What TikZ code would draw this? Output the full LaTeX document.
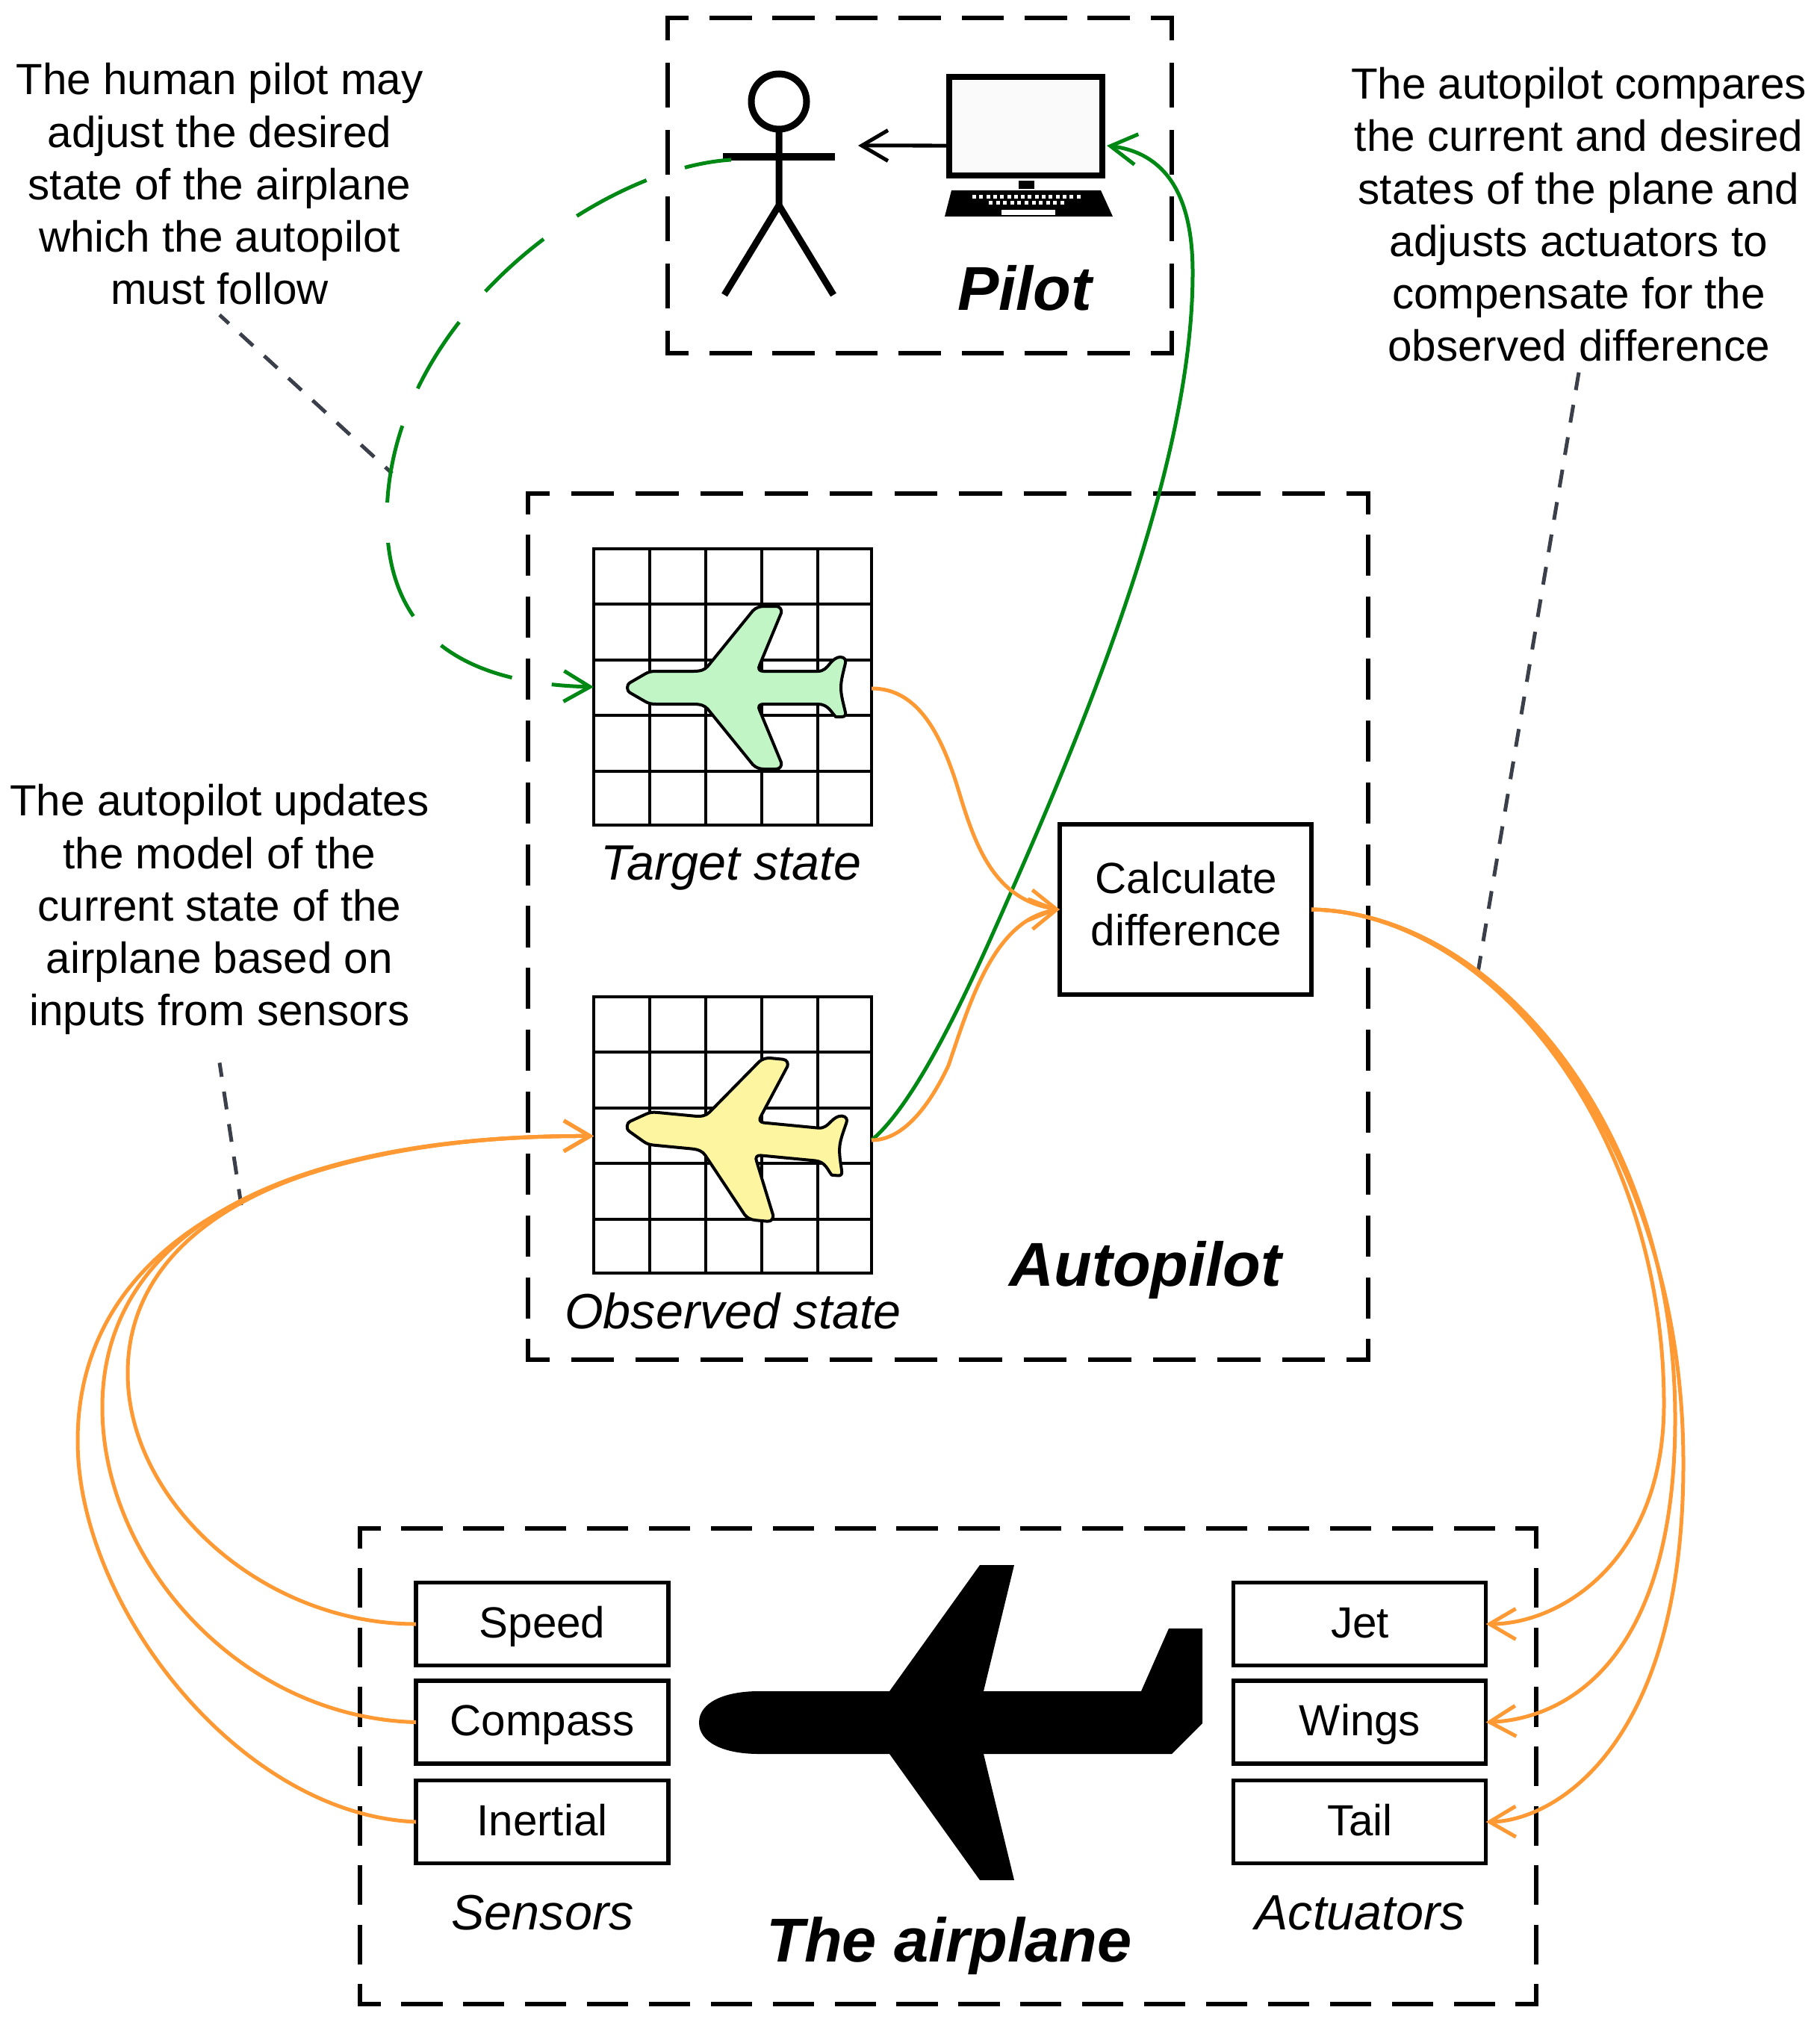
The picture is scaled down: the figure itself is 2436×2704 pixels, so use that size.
\documentclass[tikz,border=0pt]{standalone}
\usepackage{fontspec}
\setmainfont{Liberation Sans}
\usetikzlibrary{calc,arrows.meta,positioning}

\definecolor{pathgreen}{RGB}{0,136,20}
\definecolor{pathorange}{RGB}{255,153,51}
\definecolor{leadergray}{RGB}{58,63,74}
\definecolor{planegreen}{RGB}{194,245,198}
\definecolor{planeyellow}{RGB}{253,245,160}

\newcommand{\notesize}{\fontsize{16.6}{19.95}\selectfont}
\newcommand{\captionsize}{\fontsize{18.9}{22}\selectfont\itshape}
\newcommand{\titlesize}{\fontsize{23.6}{28}\selectfont\bfseries\itshape}

% small plane on a map, around its centre (y runs downwards)
\newcommand{\drawplane}[4]{%
	\begin{scope}[shift={(#1,#2)},rotate=#3]
		\draw[planeline, fill=#4] (-145,0) .. controls (-145,-3) and (-144,-5) .. (-141,-7)
		-- (-122,-18) .. controls (-117,-21) and (-113,-22) .. (-107,-22)
		-- (-56,-22) .. controls (-47,-22) and (-41,-24) .. (-37,-29)
		-- (23,-103) .. controls (27,-107) and (32,-109) .. (38,-109)
		-- (54,-109) .. controls (60,-109) and (62,-104) .. (61,-100)
		-- (32,-30) .. controls (30,-26) and (31,-22) .. (37,-22)
		-- (110,-22) .. controls (118,-22) and (122,-27) .. (126,-32)
		.. controls (130,-37) and (135,-41) .. (140,-41)
		.. controls (146,-41) and (148,-37) .. (147,-33)
		.. controls (144,-20) and (141,-10) .. (141,0)
		.. controls (141,10) and (144,20) .. (147,33)
		.. controls (148,37) and (146,39) .. (142,39)
		-- (134,39) .. controls (128,33) and (124,22) .. (110,22)
		-- (37,22) .. controls (31,22) and (30,26) .. (32,30)
		-- (61,100) .. controls (62,104) and (60,109) .. (54,109)
		-- (38,109) .. controls (32,109) and (27,107) .. (23,103)
		-- (-37,29) .. controls (-41,24) and (-47,22) .. (-56,22)
		-- (-107,22) .. controls (-113,22) and (-117,21) .. (-122,18)
		-- (-141,7) .. controls (-144,5) and (-145,3) .. cycle;
	\end{scope}
}

% inner lines of a 5 by 5 map
\newcommand{\drawcells}[1]{%
	\foreach \k in {1,...,4} {
		\draw[mapline] ($(#1.north west)+(\k*75,0)$) -- ($(#1.south west)+(\k*75,0)$);
		\draw[mapline] ($(#1.north west)+(0,\k*74.5)$) -- ($(#1.north east)+(0,\k*74.5)$);
	}
}

\begin{document}
\begin{tikzpicture}[x=0.01cm, y=-0.01cm]
	\tikzset{
		groupline/.style={draw=black, line cap=rect},
		mapline/.style={draw=black, line width=0.04cm},
		planeline/.style={draw=black, line width=0.04cm, line join=round},
		figureline/.style={draw=black, line width=0.09cm},
		mapbox/.style={draw=black, line width=0.04cm, minimum width=3.72cm, minimum height=3.70cm, inner sep=0pt, outer sep=0pt},
		unitbox/.style={draw=black, line width=0.055cm, fill=white, minimum width=3.38cm, minimum height=1.11cm, inner sep=0pt, outer sep=0pt, font=\notesize},
		notetext/.style={font=\notesize, align=center, inner sep=0pt, anchor=base},
		captiontext/.style={font=\captionsize, inner sep=0pt, anchor=base},
		titletext/.style={font=\titlesize, inner sep=0pt, anchor=base},
		leader/.style={draw=leadergray, line width=0.05cm, dash pattern=on 0.24cm off 0.20cm},
		barb/.style={-{Straight Barb[length=0.35cm, width=0.41cm]}},
		greenflow/.style={draw=pathgreen, line width=0.05cm, barb},
		orangeflow/.style={draw=pathorange, line width=0.05cm, barb}
	}
	\useasboundingbox (0,0) rectangle (2436,2704);

	% GROUP FRAMES: every side holds a whole number of dashes
	\foreach \xa/\ya/\xb/\yb/\nh/\nv/\lw in {894/24/1569/473/8/5/0.06, 707/661/1832/1821/13/14/0.055, 482/2047/2057/2684/19/8/0.055} {
		\pgfmathsetmacro{\onh}{0.006*(\xb-\xa)/\nh}
		\pgfmathsetmacro{\ofh}{0.004*(\xb-\xa)/\nh}
		\pgfmathsetmacro{\phh}{\onh/2}
		\pgfmathsetmacro{\onv}{0.006*(\yb-\ya)/\nv}
		\pgfmathsetmacro{\ofv}{0.004*(\yb-\ya)/\nv}
		\pgfmathsetmacro{\phv}{\onv/2}
		\draw[groupline, line width=\lw cm, dash pattern=on \onh cm off \ofh cm, dash phase=\phh cm] (\xa,\ya) -- (\xb,\ya) (\xa,\yb) -- (\xb,\yb);
		\draw[groupline, line width=\lw cm, dash pattern=on \onv cm off \ofv cm, dash phase=\phv cm] (\xa,\ya) -- (\xa,\yb) (\xb,\ya) -- (\xb,\yb);
	}

	% PILOT
	\draw[figureline] (1043,136) circle[radius=37];
	\draw[figureline] (1043,173) -- (1043,275) -- (970,395);
	\draw[figureline] (1043,275) -- (1116,395);
	\draw[draw=black, line width=0.10cm] (968,210) -- (1118,210);
	\coordinate (pilotEye) at (1149,195);
	\coordinate (pilotHand) at (979,214);

	\node[draw=black, fill=black!2, line width=0.08cm, minimum width=2.05cm, minimum height=1.32cm, inner sep=0pt] (monitor) at (1373.5,169) {};
	\coordinate (monitorIn) at (1482,195);
	\fill (1364,242) rectangle (1385,253);
	\fill (1274,255) -- (1474,255) -- (1490,290) -- (1265,290) -- cycle;
	\foreach \k in {0,...,15} { \fill[white] (1302+\k*9.3,261) rectangle ++(5,5); }
	\foreach \k in {0,...,10} { \fill[white] (1324+\k*9.6,269) rectangle ++(5,5); }
	\fill[white] (1341,281) rectangle (1413,288);
	\draw[line width=0.05cm, barb] ([yshift=-0.26cm]monitor.west) -- (pilotEye);
	\node[titletext] (pilotTitle) at (1372,416) {Pilot};

	% AUTOPILOT
	\node[mapbox] (target) at (981,920) {};
	\drawcells{target}
	\drawplane{985}{921}{0}{planegreen}
	\node[captiontext] (targetLabel) at (979,1178) {Target state};

	\node[mapbox] (observed) at (981,1520) {};
	\drawcells{observed}
	\drawplane{984}{1522}{-5.5}{planeyellow}
	\node[captiontext] (observedLabel) at (981.6,1779) {Observed state};

	\node[unitbox, minimum width=3.37cm, minimum height=2.28cm] (calc) at (1587.5,1218) {};
	\node[notetext] (calcLabel) at (1588.5,1266.5) {Calculate\\difference};
	\node[titletext] (autoTitle) at (1534,1722) {Autopilot};

	% THE AIRPLANE
	\fill (936,2307) .. controls (936,2280) and (970,2265) .. (1016,2265) -- (1191,2265) -- (1312,2096) -- (1358,2096) -- (1317,2265) -- (1528,2265) -- (1565,2181) -- (1610,2181) -- (1610,2308) -- (1569,2349) -- (1317,2349) -- (1358,2518) -- (1312,2518) -- (1191,2349) -- (1016,2349) .. controls (970,2349) and (936,2334) .. cycle;

	\node[unitbox] (speed) at (726,2175) {};
	\node[unitbox] (compass) at (726,2306.5) {};
	\node[unitbox] (inertial) at (726,2440) {};
	\node[unitbox] (jet) at (1820.5,2175) {};
	\node[unitbox] (wings) at (1820.5,2306.5) {};
	\node[unitbox] (tail) at (1820.5,2440) {};
	\foreach \nm/\tx/\cx/\by in {speedLabel/Speed/726/2193.5, compassLabel/Compass/726/2324.6, inertialLabel/Inertial/726/2458, jetLabel/Jet/1821/2193.5, wingsLabel/Wings/1821/2324.6, tailLabel/Tail/1821/2458} {
		\node[notetext] (\nm) at (\cx,\by) {\tx};
	}
	\node[captiontext] (sensorsLabel) at (726.5,2584) {Sensors};
	\node[captiontext] (actuatorsLabel) at (1821,2584) {Actuators};
	\node[titletext] (planeTitle) at (1271,2627) {The airplane};

	% NOTES
	\node[notetext] (noteHuman) at (294,407.5) {The human pilot may\\adjust the desired\\state of the airplane\\which the autopilot\\must follow};
	\node[notetext] (noteUpdate) at (294,1373.5) {The autopilot updates\\the model of the\\current state of the\\airplane based on\\inputs from sensors};
	\node[notetext] (noteCompare) at (2114,483.5) {The autopilot compares\\the current and desired\\states of the plane and\\adjusts actuators to\\compensate for the\\observed difference};

	\coordinate (leadHuman) at (525,634);
	\coordinate (leadUpdate) at (323,1614);
	\coordinate (leadCompare) at (1979,1302);
	\draw[leader, dash phase=0.07cm] ([yshift=-0.13cm]noteHuman.south) -- (leadHuman);
	\draw[leader, dash phase=0.05cm] ([yshift=-0.37cm]noteUpdate.south) -- (leadUpdate);
	\draw[leader] ([yshift=-0.14cm]noteCompare.south) -- (leadCompare);

	% GREEN: pilot input and display
	\draw[greenflow, dash pattern=on 1.05cm off 0.54cm, dash phase=0.42cm] (pilotHand) .. controls (800,225) and (518,430) .. (518,694) .. controls (518,825) and (590,915) .. (target.west);
	\draw[greenflow] ([yshift=-0.07cm]observed.east) .. controls (1234,1471) and (1312,1290) .. (1352,1199) .. controls (1482,904) and (1597,600) .. (1597,365) .. controls (1597,260) and (1560,205) .. (monitorIn);

	% ORANGE: difference
	\draw[orangeflow] ([yshift=-0.02cm]target.east) .. controls (1225,922) and (1258,975) .. (1283,1057) .. controls (1305,1130) and (1330,1205) .. (calc.west);
	\draw[orangeflow] ([yshift=-0.07cm]observed.east) .. controls (1210,1527) and (1245,1480) .. (1270,1427) .. controls (1298,1345) and (1330,1232) .. (calc.west);

	% ORANGE: sensors
	\draw[orangeflow] (speed.west) .. controls (350,2175) and (171,2010) .. (171,1839) .. controls (171,1640) and (400,1520) .. ([yshift=-0.015cm]observed.west);
	\draw[orangeflow] (compass.west) .. controls (320,2300) and (137,2090) .. (137,1885) .. controls (137,1640) and (400,1520) .. ([yshift=-0.015cm]observed.west);
	\draw[orangeflow] (inertial.west) .. controls (320,2430) and (104,2150) .. (104,1930) .. controls (104,1650) and (400,1520) .. ([yshift=-0.015cm]observed.west);

	% ORANGE: actuators
	\draw[orangeflow] (calc.east) .. controls (2000,1222) and (2228,1520) .. (2228,1880) .. controls (2228,2090) and (2090,2175) .. (jet.east);
	\draw[orangeflow] (calc.east) .. controls (2000,1222) and (2243,1510) .. (2243,1900) .. controls (2243,2220) and (2100,2302) .. (wings.east);
	\draw[orangeflow] (calc.east) .. controls (2000,1222) and (2254,1530) .. (2254,1960) .. controls (2254,2340) and (2080,2439) .. (tail.east);
\end{tikzpicture}
\end{document}
